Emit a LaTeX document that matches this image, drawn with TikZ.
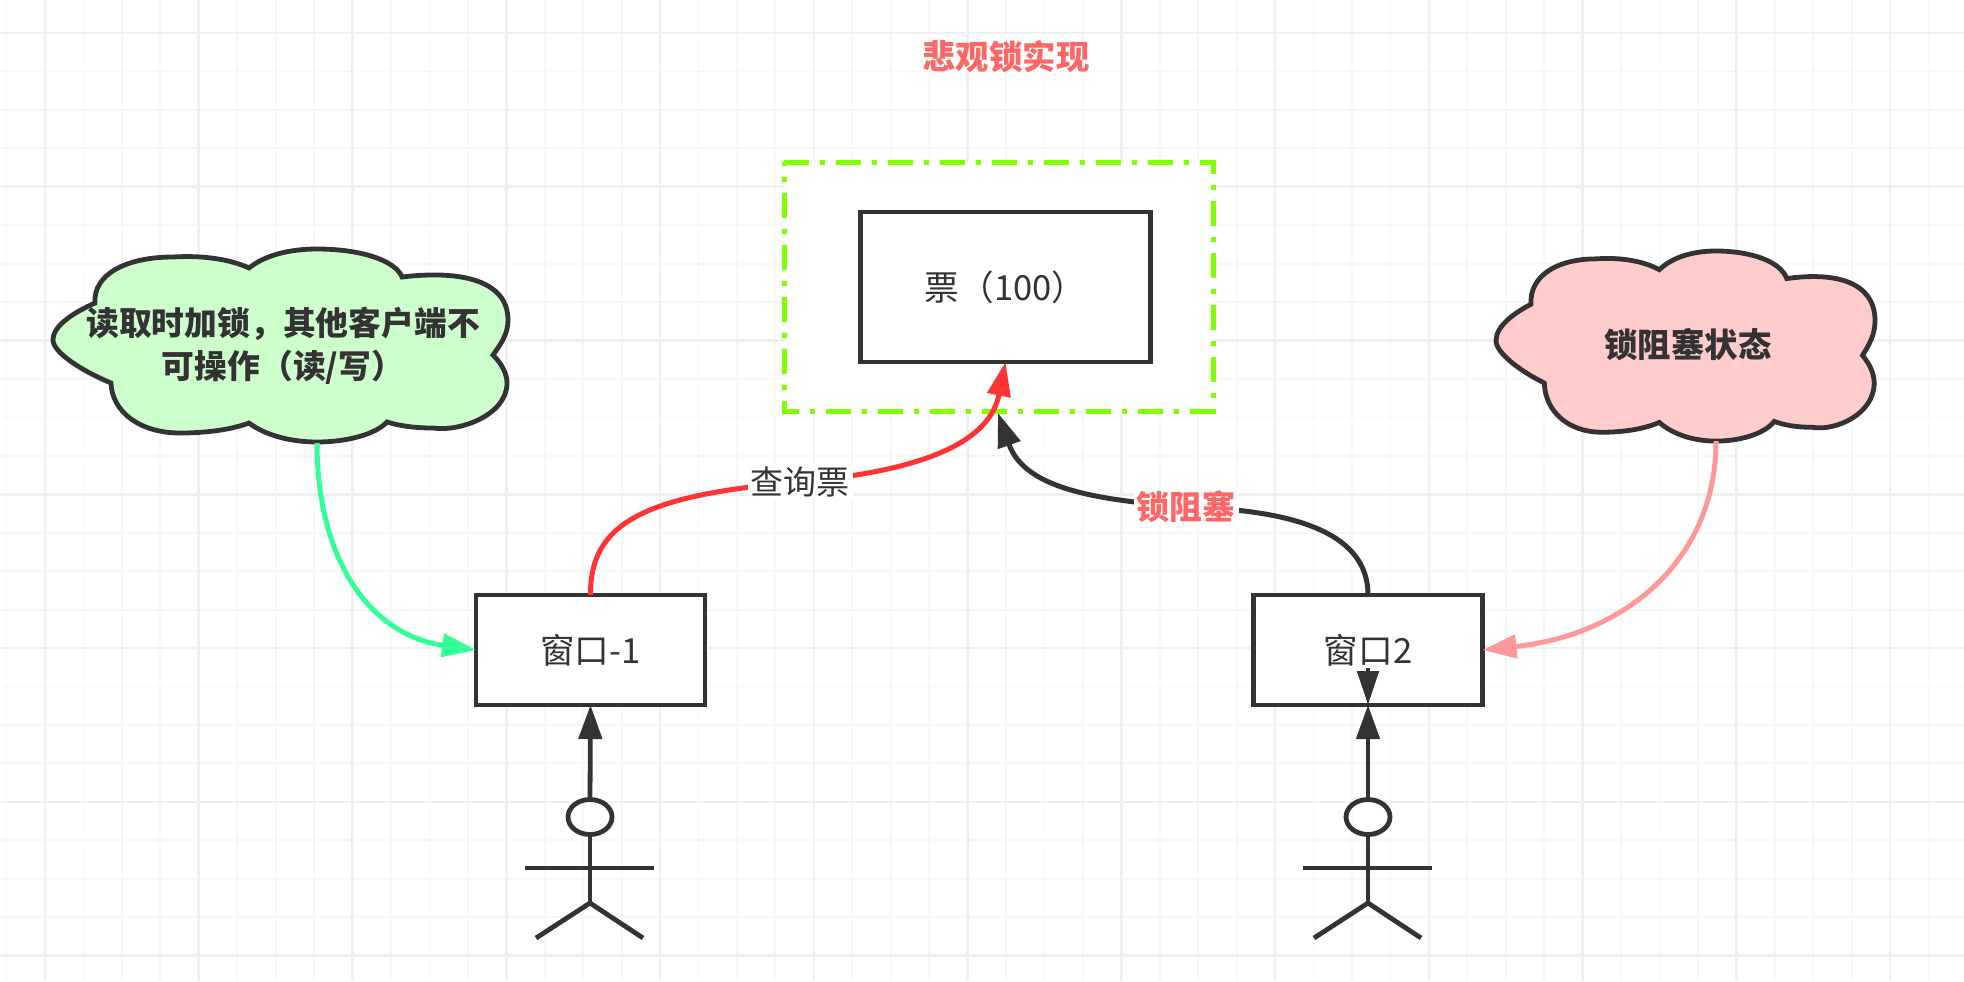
\documentclass[tikz,border=0pt]{standalone}
\usepackage{fontspec}
\setmainfont{Noto Sans CJK SC}
\usetikzlibrary{arrows.meta,shapes.geometric}
\definecolor{linedark}{HTML}{333333}
\definecolor{redlabel}{HTML}{FF6666}
\definecolor{redcurve}{HTML}{FF3333}
\definecolor{greencurve}{HTML}{33FF99}
\definecolor{pinkcurve}{HTML}{FF9999}
\definecolor{framegreen}{HTML}{80FF00}
\definecolor{greenfill}{HTML}{CCFFCC}
\definecolor{pinkfill}{HTML}{FFCCCC}
\tikzset{
  gridminor/.style={color=black!3,line width=0.9pt},
  gridmajor/.style={color=black!6,line width=1.3pt},
  boxnode/.style={draw=linedark,fill=white,line width=2.4pt,outer sep=0pt,text=linedark,font=\fontsize{17.3}{20}\selectfont},
  curvetip/.style={-{Triangle[length=17pt,width=11.5pt]},line width=2.5pt},
  edgelabel/.style={fill=white,inner sep=1.5pt,font=\fontsize{16.5}{20}\selectfont},
  boldlabel/.style={font=\fontsize{16.7}{20}\selectfont\bfseries},
  personline/.style={color=linedark,line width=2.4pt},
  headnode/.style={ellipse,draw=linedark,line width=2.4pt,minimum width=22pt,minimum height=17.5pt,inner sep=0pt,outer sep=0pt},
  cloudshape/.pic={
    \path[draw=linedark,line width=2.4pt,pic actions] (42,54) .. controls (40,26) and (72,8) .. (120,8)
      .. controls (152,6) and (179,11) .. (196,19) .. controls (212,6) and (237,0) .. (264,0)
      .. controls (307,0) and (342,11) .. (349,28) .. controls (407,21) and (455,31) .. (455,71)
      .. controls (455,86) and (447,96) .. (440,106) .. controls (450,116) and (454,126) .. (454,134)
      .. controls (454,166) and (407,183) .. (380,179) .. controls (362,179) and (347,177) .. (334,173)
      .. controls (322,186) and (292,193) .. (264,193) .. controls (237,193) and (212,186) .. (196,174)
      .. controls (177,181) and (152,184) .. (127,184) .. controls (87,184) and (59,163) .. (58,134)
      .. controls (27,121) and (0,103) .. (0,91) .. controls (0,76) and (22,63) .. (42,54) -- cycle;
  }
}
\begin{document}
\begin{tikzpicture}[x=0.5pt,y=-0.5pt]
  \useasboundingbox (0,0) rectangle (1964,981);
  \begin{scope}[shift={(45,33)}]
    \draw[gridminor,step=19.22pt] (-45,-33) grid (1919,948);
    \draw[gridmajor,step=76.88pt] (-45,-33) grid (1919,948);
  \end{scope}

  \node[boldlabel,text=redlabel] (title) at (1006,57) {悲观锁实现};

  \draw[color=framegreen,fill=white,line width=2.5pt,dash pattern=on 12.5pt off 5.5pt on 2.5pt off 5.5pt]
    (784,162) -- (1213,162) -- (1213,411) -- (784,411) -- cycle;
  \node[boxnode,minimum width=145pt,minimum height=75pt] (ticket) at (1005.5,287) {票（100）};
  \node[boxnode,minimum width=114.5pt,minimum height=55pt] (win1) at (590.5,650) {窗口-1};
  \node[boxnode,minimum width=114.5pt,minimum height=55pt] (win2) at (1368,650) {窗口2};

  \pic[fill=greenfill] at (53,249) {cloudshape};
  \node[boldlabel,text=linedark,font=\fontsize{16.4}{21.5}\selectfont\bfseries,align=center] (readcloud) at (283,346)
    {读取时加锁，其他客户端不\\可操作（读/写）};
  \pic[fill=pinkfill,xscale=0.833,yscale=0.985] at (1496,251) {cloudshape};
  \node[boldlabel,text=linedark] (blockcloud) at (1688,345) {锁阻塞状态};

  \coordinate (readout) at (317,443);
  \coordinate (blockout) at (1716,441);
  \coordinate (blockend) at (998,413);
  \coordinate (stem2) at (1368,668);

  \draw[curvetip,color=greencurve] (readout) .. controls (317,560) and (370,635) .. (win1.west);
  \draw[curvetip,color=pinkcurve] (blockout) .. controls (1716,560) and (1625,635) .. (win2.east);
  \draw[curvetip,color=redcurve] (win1.north) .. controls (590,525) and (640,495) .. (800,482)
    node[edgelabel,text=linedark] (querylabel) {查询票}
    .. controls (930,470) and (990,440) .. (ticket.south);
  \draw[curvetip,color=linedark] (win2.north) .. controls (1368,535) and (1300,510) .. (1186,507)
    node[edgelabel,text=redlabel,font=\fontsize{16.5}{20}\selectfont\bfseries] (blocklabel) {锁阻塞}
    .. controls (1100,500) and (1025,490) .. (blockend);

  \node[headnode] (head1) at (590,817) {};
  \node[headnode] (head2) at (1368,817) {};
  \draw[personline,-{Triangle[length=17pt,width=11.5pt]}] (head1.north) -- (win1.south);
  \draw[personline,-{Triangle[length=17pt,width=11.5pt]}] (head2.north) -- (win2.south);
  \draw[personline,-{Triangle[length=17pt,width=10.5pt]}] (stem2) -- (win2.south);
  \draw[personline] (head1.south) -- (590,903);
  \draw[personline] (525,868) -- (654,868);
  \draw[personline] (536,938) -- (590,903) -- (643,938);
  \draw[personline] (head2.south) -- (1368,903);
  \draw[personline] (1303,868) -- (1432,868);
  \draw[personline] (1314,938) -- (1368,903) -- (1421,938);
\end{tikzpicture}
\end{document}
